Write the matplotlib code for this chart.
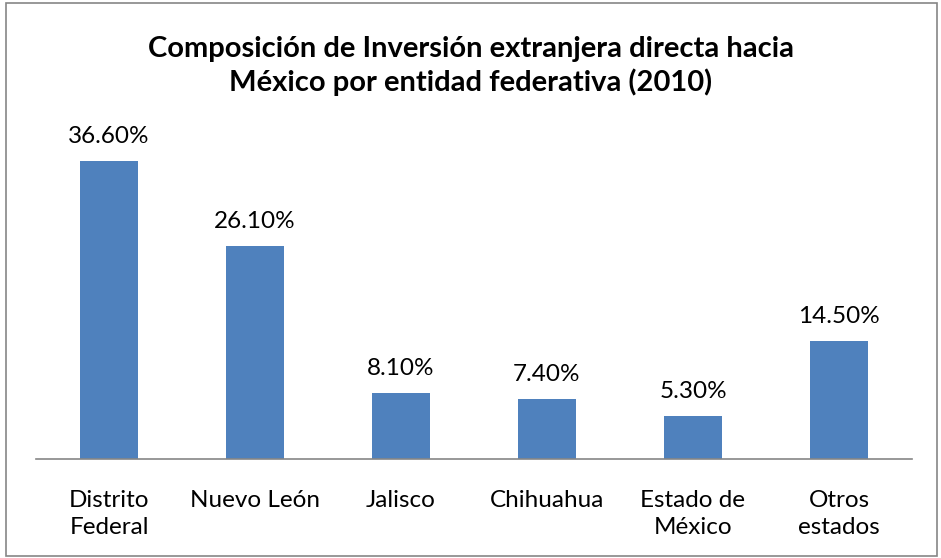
import matplotlib.pyplot as plt
from matplotlib.patches import Rectangle

# data
entidades = ['Distrito\nFederal', 'Nuevo León', 'Jalisco', 'Chihuahua',
             'Estado de\nMéxico', 'Otros\nestados']
porcentajes = [36.6, 26.1, 8.1, 7.4, 5.3, 14.5]

plt.rcParams['font.family'] = ['Lato', 'DejaVu Sans']

fig = plt.figure(figsize=(9.41, 5.58), dpi=100)
ax = fig.add_axes([36/941, 1-459/558, 876/941, 326/558])

x = range(len(entidades))
ax.bar(x, porcentajes, width=0.4, color='#4f81bd')
for xi, v in zip(x, porcentajes):
    ax.text(xi, v + 1.7, f'{v:.2f}%', ha='center', va='bottom', fontsize=17.5)

ax.set_xlim(-0.5, len(entidades) - 0.5)
ax.set_ylim(0, 40)
ax.set_yticks([])
ax.set_xticks(list(x))
ax.set_xticklabels(entidades, fontsize=17.5, linespacing=1.36, va='top')
ax.tick_params(axis='x', length=0, pad=22)
for s in ['top', 'right', 'left']:
    ax.spines[s].set_visible(False)
ax.spines['bottom'].set_color('#868686')
ax.spines['bottom'].set_linewidth(1.2)

fig.text(0.5, 1 - 66/558, 'Composición de Inversión extranjera directa hacia\nMéxico por entidad federativa (2010)',
         ha='center', va='center', fontsize=21, fontweight='bold', linespacing=1.3)

fig.patches.append(Rectangle((6/941, 2/558), 931/941, 553/558, transform=fig.transFigure,
                             fill=False, edgecolor='#868686', linewidth=1.2))

fig.savefig('out.png', dpi=100)
